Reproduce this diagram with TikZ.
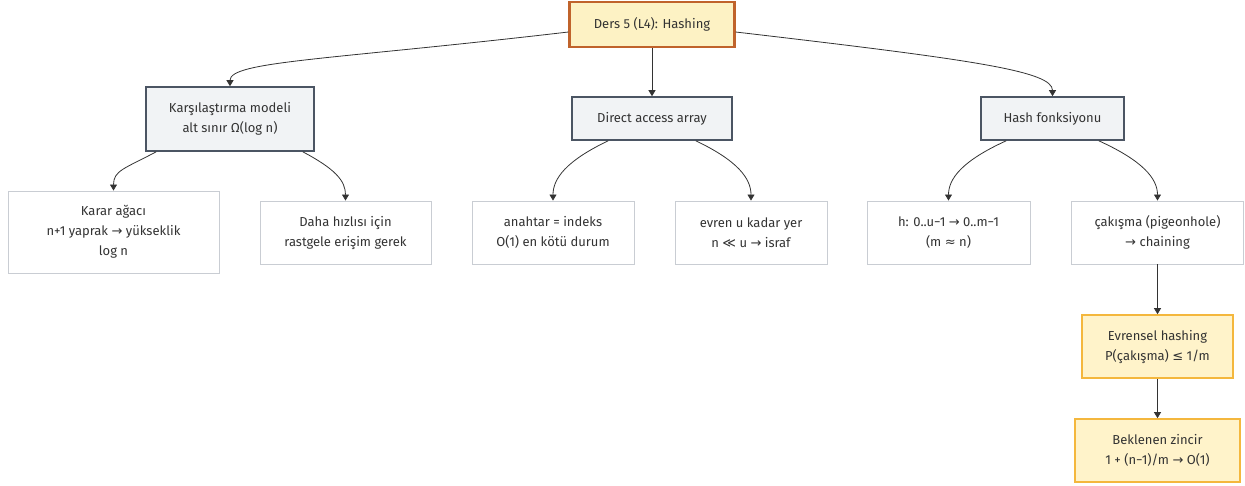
\documentclass[tikz,border=0pt]{standalone}
\usepackage{fontspec}
\setmainfont{Fira Sans}
\newfontfamily\symf{DejaVu Sans}
\usetikzlibrary{arrows.meta,calc}
\definecolor{rootfill}{HTML}{FDF2C4}
\definecolor{rootline}{HTML}{C0632B}
\definecolor{mainfill}{HTML}{F1F3F5}
\definecolor{mainline}{HTML}{4B5563}
\definecolor{leafline}{HTML}{C9CDD3}
\definecolor{keyfill}{HTML}{FFF3CA}
\definecolor{keyline}{HTML}{F4B73D}
\definecolor{ink}{HTML}{333333}
\newcommand{\ar}{{\symf →}}
\begin{document}
\begin{tikzpicture}[x=1pt,y=-1pt,
  every node/.style={font=\fontsize{13}{20}\selectfont, text=ink, align=center, inner sep=0pt},
  rootbox/.style={draw=rootline, fill=rootfill, line width=2.2pt},
  mainbox/.style={draw=mainline, fill=mainfill, line width=1.6pt},
  leafbox/.style={draw=leafline, fill=white, line width=0.9pt},
  keybox/.style={draw=keyline, fill=keyfill, line width=1.6pt},
  link/.style={draw=ink, line width=0.8pt, -{Triangle[length=6pt,width=7pt]}}]
\useasboundingbox (0,0) rectangle (1245,486);

% top level
\node[rootbox, minimum width=165pt, minimum height=45pt] (root) at (652,24.5) {Ders 5 (L4): Hashing};

% second level
\node[mainbox, minimum width=168pt, minimum height=64pt] (cmp) at (230,119) {Karşılaştırma modeli\\alt sınır Ω(log n)};
\node[mainbox, minimum width=160pt, minimum height=43pt] (daa) at (652,118.5) {Direct access array};
\node[mainbox, minimum width=143pt, minimum height=43pt] (hf) at (1052.5,118.5) {Hash fonksiyonu};

% third level
\node[leafbox, minimum width=211pt, minimum height=82pt] (tree) at (113.5,232) {Karar ağacı\\n+1 yaprak \ar{} yükseklik\\log n};
\node[leafbox, minimum width=171pt, minimum height=63pt] (fast) at (345.5,232.5) {Daha hızlısı için\\rastgele erişim gerek};
\node[leafbox, minimum width=162pt, minimum height=63pt] (key) at (553,232.5) {anahtar = indeks\\O(1) en kötü durum};
\node[leafbox, minimum width=152pt, minimum height=63pt] (univ) at (751,232.5) {evren u kadar yer\\n {\symf ≪} u \ar{} israf};
\node[leafbox, minimum width=163pt, minimum height=63pt] (map) at (948.5,232.5) {h: 0..u−1 \ar{} 0..m−1\\(m {\symf ≈} n)};
\node[leafbox, minimum width=172pt, minimum height=63pt] (coll) at (1157.5,232.5) {çakışma (pigeonhole)\\\ar{} chaining};

% chain below the collision node
\node[keybox, minimum width=151pt, minimum height=63pt] (uh) at (1157.5,346.5) {Evrensel hashing\\P(çakışma) {\symf ≤} 1/m};
\node[keybox, minimum width=165pt, minimum height=63pt] (exp) at (1157.5,450.5) {Beklenen zincir\\1 + (n−1)/m \ar{} O(1)};

% connectors from the root
\draw[link] ([yshift=-7.5pt]root.west) .. controls +(-240,28) and ($(cmp.north)+(0,-25)$) .. (cmp.north);
\draw[link] (root.south) -- (daa.north);
\draw[link] ([yshift=-7.5pt]root.east) .. controls +(240,28) and ($(hf.north)+(0,-25)$) .. (hf.north);

% second level to leaves
\draw[link] ([xshift=11pt]cmp.south west) .. controls +(-32,17) and ($(tree.north)+(0,-20)$) .. (tree.north);
\draw[link] ([xshift=-12pt]cmp.south east) .. controls +(32,17) and ($(fast.north)+(0,-20)$) .. (fast.north);
\draw[link] ([xshift=37pt]daa.south west) .. controls +(-42,20) and ($(key.north)+(0,-22)$) .. (key.north);
\draw[link] ([xshift=-37pt]daa.south east) .. controls +(42,20) and ($(univ.north)+(0,-22)$) .. (univ.north);
\draw[link] ([xshift=26pt]hf.south west) .. controls +(-44,20) and ($(map.north)+(0,-22)$) .. (map.north);
\draw[link] ([xshift=-26pt]hf.south east) .. controls +(44,20) and ($(coll.north)+(0,-22)$) .. (coll.north);

% vertical chain
\draw[link] (coll.south) -- (uh.north);
\draw[link] (uh.south) -- (exp.north);
\end{tikzpicture}
\end{document}
